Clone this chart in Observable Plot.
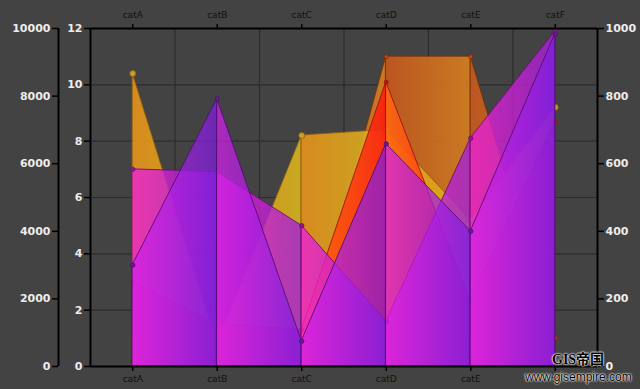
<!DOCTYPE html>
<html><head><meta charset="utf-8">
<script src="https://cdn.jsdelivr.net/npm/d3@7"></script>
<script src="https://cdn.jsdelivr.net/npm/@observablehq/plot@0.6"></script>
<style>
html,body{margin:0;padding:0;background:#434343;}
#wrap{position:relative;width:640px;height:389px;overflow:hidden;background:#434343;}
#wrap svg{display:block;}
.wm1{position:absolute;left:552px;top:352px;font:bold 14px "Liberation Serif","Noto Sans CJK SC",serif;color:#000;line-height:15px;text-shadow:0 0 2px #fff,0 0 2px #fff,0 0 1px #fff;white-space:nowrap;}
.wm2{position:absolute;left:525px;top:371px;font:12px "Liberation Sans",Arial,sans-serif;color:#000;line-height:13px;text-shadow:0 0 2px #fff,0 0 2px #fff,0 0 1px #fff;white-space:nowrap;}
</style></head>
<body><div id="wrap"></div>
<script>
// ---- data ----
const categories = ["catA", "catB", "catC", "catD", "catE", "catF"];
const brownValues  = [1.0, 0.4, 0.1, 11.0, 11.0, 1.0];
const orangeValues = [10.4, 0.8, 8.2, 8.4, 5.2, 9.2];
const redValues    = [3.0, 1.5, 1.3, 10.1, 2.3, 8.7];
const pinkValues   = [7.0, 6.9, 5.0, 1.6, 8.1, 11.9];
const purpleValues = [3.6, 9.5, 0.9, 7.9, 4.8, 11.8];
const innerTicks = [0, 2, 4, 6, 8, 10, 12];
const outerTicks = [0, 2000, 4000, 6000, 8000, 10000];
const rightTicks = [0, 200, 400, 600, 800, 1000];

// ---- styles ----
const seriesList = [
  {key: "brown",  values: brownValues,  c0: "#c8581c", c1: "#d8801f", stroke: "#7a3008", op: 0.9, dot: "#d0401a", r: 2},
  {key: "orange", values: orangeValues, c0: "#e8921a", c1: "#d6b41e", stroke: "#8a5e0c", op: 0.9, dot: "#c9a02a", r: 3},
  {key: "red",    values: redValues,    c0: "#ff6a10", c1: "#fb1a10", stroke: "#9a1010", op: 0.88, dot: "#b01818", r: 2},
  {key: "pink",   values: pinkValues,   c0: "#f020d4", c1: "#a020d4", stroke: "#6a0c72", op: 0.8, dot: "#8a1a90", r: 2.2},
  {key: "purple", values: purpleValues, c0: "#d420ea", c1: "#7c1ee0", stroke: "#500c78", op: 0.72, dot: "#6a1a90", r: 2.2}
];

const segRows = [];
const pointRows = [];
for (const s of seriesList) {
  s.values.forEach((v, i) => pointRows.push({series: s.key, x: i, v}));
  for (let i = 0; i < s.values.length - 1; i++) {
    segRows.push({series: s.key, seg: s.key + i, x: i, v: s.values[i]});
    segRows.push({series: s.key, seg: s.key + i, x: i + 1, v: s.values[i + 1]});
  }
}

const labelFont = "DejaVu Sans, sans-serif";
const idx = d3.range(categories.length);
const gridX = idx.slice(0, -1).map(i => i + 0.5);

const marks = [
  Plot.ruleY(innerTicks.slice(1, -1), {stroke: "#2c2c2c", strokeWidth: 1.2}),
  Plot.ruleX(gridX, {stroke: "#2c2c2c", strokeWidth: 1.2})
];
for (const s of seriesList) {
  marks.push(Plot.areaY(segRows.filter(d => d.series === s.key), {
    x: "x", y1: 0, y2: "v", z: "seg",
    fill: `url(#g-${s.key})`, fillOpacity: s.op,
    stroke: s.stroke, strokeWidth: 1, strokeOpacity: 0.85
  }));
  marks.push(Plot.dot(pointRows.filter(d => d.series === s.key), {
    x: "x", y: "v", r: s.r, fill: s.dot, stroke: s.stroke, strokeWidth: 0.8
  }));
}
marks.push(
  Plot.ruleX([-0.5, 5.5], {stroke: "#000", strokeWidth: 2}),
  Plot.ruleX([-0.5], {dx: -32, stroke: "#000", strokeWidth: 2}),
  Plot.ruleY([0, 12], {stroke: "#000", strokeWidth: 2}),
  Plot.axisY({anchor: "left", ticks: innerTicks, tickFormat: d => String(d), tickSize: 6, tickPadding: 2,
    stroke: "#000", strokeWidth: 1.5, fill: "#ececec", fontSize: 11, fontWeight: "bold", fontFamily: labelFont, label: null}),
  Plot.axisY({anchor: "left", ticks: outerTicks.map(v => v / 10000 * 12), tickFormat: d => String(Math.round(d / 12 * 10000)),
    dx: -32, tickSize: 6, tickPadding: 2,
    stroke: "#000", strokeWidth: 1.5, fill: "#ececec", fontSize: 11, fontWeight: "bold", fontFamily: labelFont, label: null}),
  Plot.axisY({anchor: "right", ticks: rightTicks.map(v => v / 1000 * 12), tickFormat: d => String(Math.round(d / 12 * 1000)),
    tickSize: 6, tickPadding: 2,
    stroke: "#000", strokeWidth: 1.5, fill: "#ececec", fontSize: 11, fontWeight: "bold", fontFamily: labelFont, label: null}),
  Plot.axisX({anchor: "top", ticks: idx, tickFormat: i => categories[i], tickSize: 5, tickPadding: 6,
    stroke: "#000", strokeWidth: 1.5, fill: "#111", fontSize: 9, fontFamily: labelFont, label: null}),
  Plot.axisX({anchor: "bottom", ticks: idx, tickFormat: i => categories[i], tickSize: 5, tickPadding: 4,
    stroke: "#000", strokeWidth: 1.5, fill: "#111", fontSize: 9, fontFamily: labelFont, label: null})
);

const svg = Plot.plot({
  width: 640, height: 389,
  marginLeft: 90, marginRight: 43, marginTop: 28, marginBottom: 23,
  style: {background: "#434343", fontFamily: labelFont},
  x: {domain: [-0.5, 5.5], axis: null},
  y: {domain: [0, 12], axis: null},
  marks
});

const defs = d3.select(svg).insert("defs", ":first-child");
for (const s of seriesList) {
  const g = defs.append("linearGradient").attr("id", "g-" + s.key)
    .attr("x1", 0).attr("x2", 1).attr("y1", 0).attr("y2", 0);
  g.append("stop").attr("offset", 0).attr("stop-color", s.c0);
  g.append("stop").attr("offset", 1).attr("stop-color", s.c1);
}

const wrap = document.getElementById("wrap");
wrap.appendChild(svg);
const w1 = document.createElement("div"); w1.className = "wm1"; w1.textContent = "GIS帝国"; wrap.appendChild(w1);
const w2 = document.createElement("div"); w2.className = "wm2"; w2.textContent = "www.gisempire.com"; wrap.appendChild(w2);
</script>
</body></html>
